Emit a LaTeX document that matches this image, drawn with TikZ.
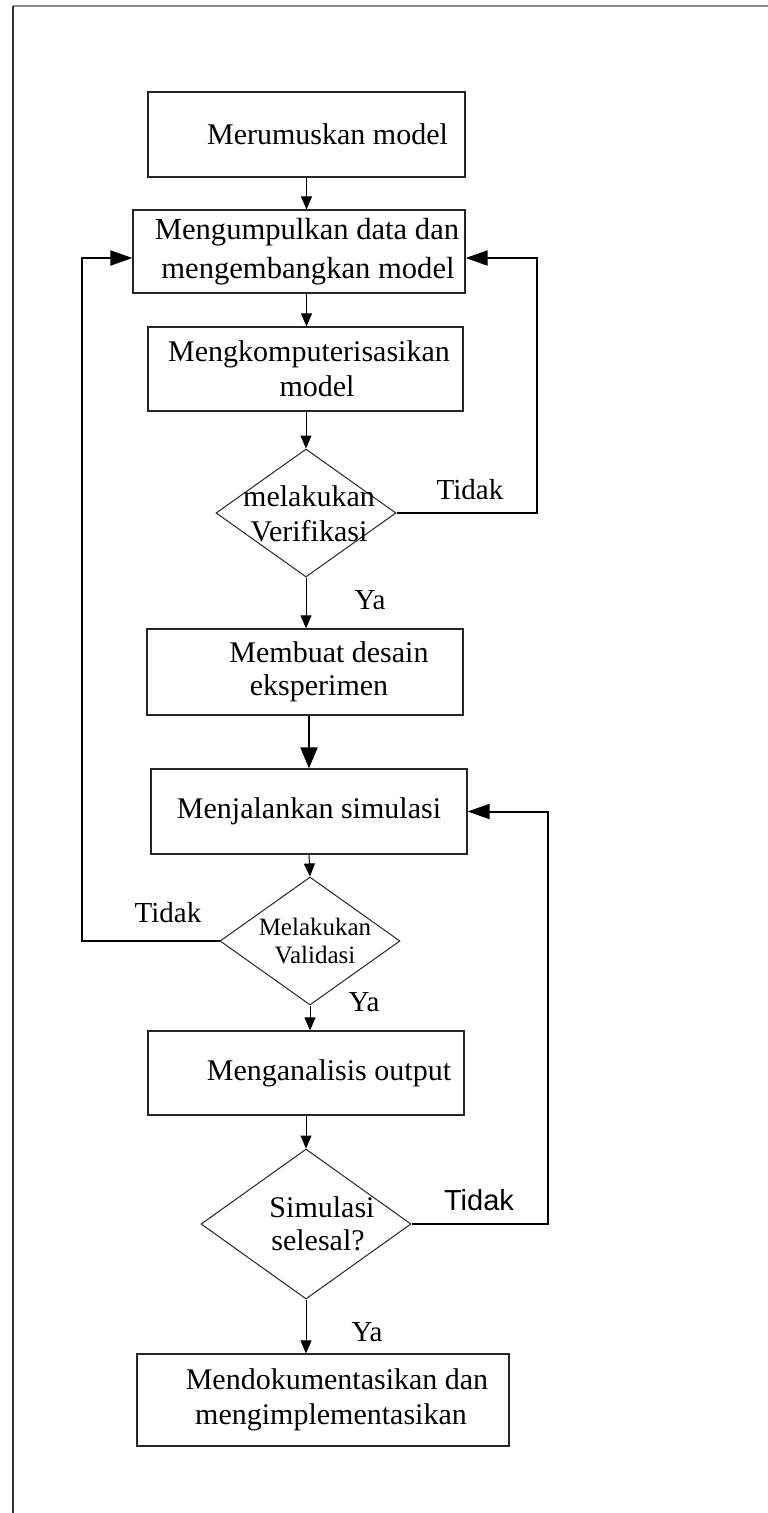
\documentclass[tikz,border=0pt]{standalone}
\usepackage{fontspec}
\setmainfont{Liberation Serif}
\newfontfamily\arialfont{Liberation Sans}
\usetikzlibrary{shapes.geometric,arrows.meta}

\begin{document}
\begin{tikzpicture}[x=1pt,y=-1pt,
  stepbox/.style={draw=black!85, line width=1.2pt, rectangle, inner sep=0pt,
    align=center, font=\fontsize{30}{38}\selectfont},
  decision/.style={draw=black!85, diamond, inner sep=0pt, line width=1pt},
  dtext/.style={inner sep=0pt, align=center},
  lbl/.style={inner sep=0pt, font=\fontsize{29}{34}\selectfont},
  flow/.style={line width=1pt, -{Triangle[length=13pt,width=11pt]}},
  loopback/.style={line width=2pt, -{Triangle[length=22pt,width=15pt]}}]

\useasboundingbox (0,0) rectangle (768,1513);

% page frame (top and left edges only)
\draw[black!45, line width=2pt] (13,6) -- (768,6);
\draw[black!80, line width=2pt] (13,6) -- (13,1513);

% process steps
\node[stepbox, minimum width=317pt, minimum height=85pt] (b1) at (306.5,134.5)
  {\hspace*{42pt}Merumuskan model};
\node[stepbox, minimum width=332pt, minimum height=83pt,
  font=\fontsize{30.6}{39.5}\selectfont] (b2) at (299,251.5)
  {\hspace*{16pt}Mengumpulkan data dan\\\hspace*{18pt}mengembangkan model};
\node[stepbox, minimum width=315pt, minimum height=84pt,
  font=\fontsize{30}{35}\selectfont] (b3) at (305.5,369)
  {\hspace*{7pt}Mengkomputerisasikan\\\hspace*{23pt}model};
\node[decision, minimum width=180pt, minimum height=128pt] (d1) at (306,513) {};
\node[dtext, font=\fontsize{30}{35}\selectfont] (d1t) at (309,514)
  {melakukan\\Verifikasi};
\node[stepbox, minimum width=316pt, minimum height=86pt,
  font=\fontsize{30}{33}\selectfont] (b4) at (305,672)
  {\hspace*{48pt}Membuat desain\\\hspace*{28pt}eksperimen};
\node[stepbox, minimum width=316pt, minimum height=85pt] (b5) at (309,811.5)
  {Menjalankan simulasi};
\node[decision, minimum width=180pt, minimum height=128pt] (d2) at (310,941) {};
\node[dtext, font=\fontsize{25}{28}\selectfont] (d2t) at (315,941)
  {Melakukan\\Validasi};
\node[stepbox, minimum width=316pt, minimum height=84pt] (b6) at (306,1073)
  {\hspace*{46pt}Menganalisis output};
\node[decision, minimum width=210pt, minimum height=150pt] (d3) at (306,1224) {};
\node[dtext, font=\fontsize{30}{33}\selectfont] (d3t) at (318,1224)
  {\hspace*{8pt}Simulasi\\selesal?};
\node[stepbox, minimum width=372pt, minimum height=92pt,
  font=\fontsize{30}{35}\selectfont] (b7) at (323,1400)
  {\hspace*{28pt}Mendokumentasikan dan\\\hspace*{16pt}mengimplementasikan};

% branch labels
\node[lbl] (t1) at (470,490) {Tidak};
\node[lbl] (y1) at (370,600) {Ya};
\node[lbl] (t2) at (168,913) {Tidak};
\node[lbl] (y2) at (364,1002) {Ya};
\node[lbl, font=\arialfont\fontsize{29}{34}\selectfont] (t3) at (479,1200) {Tidak};
\node[lbl] (y3) at (367,1332) {Ya};

% turning points of the feedback lines
\coordinate (r1) at (537,513);
\coordinate (l2) at (82,941);
\coordinate (r3) at (548,1224);

% main flow
\draw[flow] (b1.south) -- (b2.north -| b1.south);
\draw[flow] (b2.south -| b1.south) -- (b3.north -| b1.south);
\draw[flow] (b3.south -| d1.north) -- (d1.north);
\draw[flow] (d1.south) -- (b4.north -| d1.south);
\draw[line width=2pt, -{Triangle[length=21pt,width=17pt]}]
  (b4.south -| b5.north) -- (b5.north);
\draw[flow] (b5.south) -- (d2.north);
\draw[flow] (d2.south) -- (b6.north -| d2.south);
\draw[flow] (b6.south) -- (d3.north);
\draw[flow] (d3.south) -- (b7.north -| d3.south);

% feedback loops
\draw[loopback] (d1.east) -- (r1) |- ([yshift=-6.5pt]b2.east);
\draw[loopback] (d2.west) -- (l2) |- ([yshift=-6.5pt]b2.west);
\draw[loopback] (d3.east) -- (r3) |- (b5.east);
\end{tikzpicture}
\end{document}
